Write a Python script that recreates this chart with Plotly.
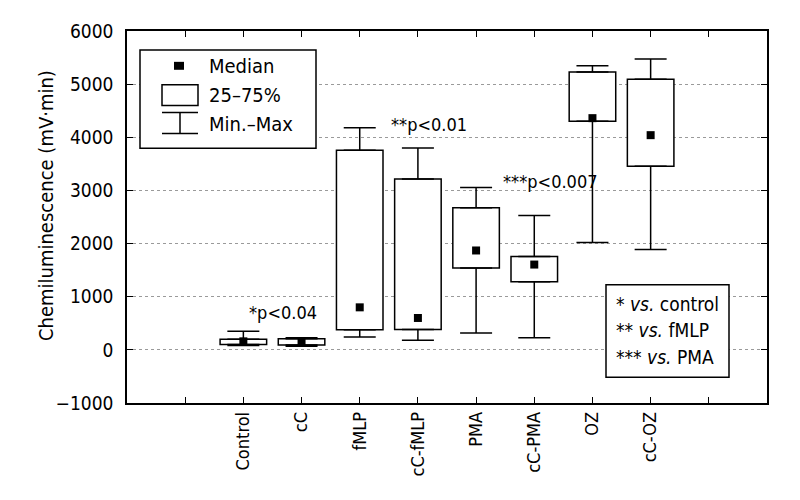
import plotly.graph_objects as go

# Chemiluminescence per group (mV·min)
groups = ["Control", "cC", "fMLP", "cC-fMLP", "PMA", "cC-PMA", "OZ", "cC-OZ"]
mins = [80, 70, 240, 180, 315, 230, 2020, 1890]
q1s = [100, 90, 380, 385, 1540, 1280, 4300, 3455]
medians = [160, 140, 800, 600, 1870, 1605, 4360, 4040]
q3s = [200, 210, 3755, 3215, 2675, 1755, 5230, 5090]
maxs = [350, 230, 4180, 3800, 3055, 2530, 5345, 5475]

p_labels = ["*p&lt;0.04", "**p&lt;0.01", "***p&lt;0.007"]
key_labels = ["* <i>vs.</i> control", "** <i>vs.</i> fMLP", "*** <i>vs.</i> PMA"]
legend_labels = ["Median", "25–75%", "Min.–Max"]
y_title = "Chemiluminescence (mV·min)"

FONT = "DejaVu Sans Condensed, Liberation Sans Narrow, sans-serif"
# page body has an 8px margin, so the figure is a bit smaller than the window
W, H = 792, 492
L, R, T, B = 119, 33, 21, 97
# plot area in window pixels: x 127..767, y 29..403


def px(x):
    return (x - 127) / 640


def py(y):
    return (403 - y) / 374


pos = list(range(len(groups)))

fig = go.Figure()

# boxes (interquartile range)
fig.add_trace(
    go.Bar(
        x=pos,
        y=[b - a for a, b in zip(q1s, q3s)],
        base=q1s,
        width=0.8,
        marker=dict(color="white", line=dict(color="black", width=1.5)),
        hoverinfo="skip",
    )
)

# upper whiskers
fig.add_trace(
    go.Scatter(
        x=pos,
        y=q3s,
        mode="markers",
        marker=dict(size=1, color="rgba(0,0,0,0)"),
        error_y=dict(
            type="data",
            symmetric=False,
            array=[m - q for m, q in zip(maxs, q3s)],
            arrayminus=[0] * len(pos),
            color="black",
            thickness=1.5,
            width=16,
        ),
    )
)

# lower whiskers
fig.add_trace(
    go.Scatter(
        x=pos,
        y=q1s,
        mode="markers",
        marker=dict(size=1, color="rgba(0,0,0,0)"),
        error_y=dict(
            type="data",
            symmetric=False,
            array=[0] * len(pos),
            arrayminus=[q - m for m, q in zip(mins, q1s)],
            color="black",
            thickness=1.5,
            width=16,
        ),
    )
)

# medians
fig.add_trace(
    go.Scatter(
        x=pos,
        y=medians,
        mode="markers",
        marker=dict(symbol="square", size=8, color="black"),
    )
)

shapes = []
annotations = []

# legend box
shapes.append(dict(type="rect", xref="paper", yref="paper",
                   x0=px(140), x1=px(316), y0=py(147), y1=py(48),
                   fillcolor="white", line=dict(color="black", width=1.5)))
shapes.append(dict(type="rect", xref="paper", yref="paper",
                   x0=px(174), x1=px(184), y0=py(68), y1=py(60),
                   fillcolor="black", line=dict(width=0)))
shapes.append(dict(type="rect", xref="paper", yref="paper",
                   x0=px(162), x1=px(198), y0=py(104), y1=py(83),
                   fillcolor="white", line=dict(color="black", width=1.5)))
for y in (111, 132):
    shapes.append(dict(type="line", xref="paper", yref="paper",
                       x0=px(162), x1=px(198), y0=py(y), y1=py(y),
                       line=dict(color="black", width=1.5)))
shapes.append(dict(type="line", xref="paper", yref="paper",
                   x0=px(180), x1=px(180), y0=py(111), y1=py(132),
                   line=dict(color="black", width=1.5)))
for text, y in zip(legend_labels, (64, 93, 122)):
    annotations.append(dict(text=text, xref="paper", yref="paper",
                            x=px(207), y=py(y), xanchor="left", yanchor="middle",
                            showarrow=False, font=dict(size=20)))

# significance key box
shapes.append(dict(type="rect", xref="paper", yref="paper",
                   x0=px(606), x1=px(729), y0=py(377), y1=py(284),
                   fillcolor="white", line=dict(color="black", width=1.5)))
for text, y in zip(key_labels, (303, 330, 357)):
    annotations.append(dict(text=text, xref="paper", yref="paper",
                            x=px(614), y=py(y), xanchor="left", yanchor="middle",
                            showarrow=False, font=dict(size=19)))

# p-values
for text, (x, y) in zip(p_labels, [(247, 312), (389, 123), (501, 180)]):
    annotations.append(dict(text=text, xref="paper", yref="paper",
                            x=px(x), y=py(y), xanchor="left", yanchor="middle",
                            showarrow=False, font=dict(size=18)))

# y-axis title
annotations.append(dict(text=y_title, xref="paper", yref="paper",
                        x=px(46), y=py(205), xanchor="center", yanchor="middle",
                        textangle=-90, showarrow=False, font=dict(size=20)))

fig.update_layout(
    width=W,
    height=H,
    margin=dict(l=L, r=R, t=T, b=B),
    paper_bgcolor="white",
    plot_bgcolor="white",
    font=dict(family=FONT, color="black", size=19),
    showlegend=False,
    shapes=shapes,
    annotations=annotations,
    xaxis=dict(
        range=[-2, 9],
        tickvals=list(range(-1, len(groups) + 1)),
        ticktext=[""] + groups + [""],
        tickangle=-90,
        ticks="inside",
        ticklen=6,
        tickwidth=1,
        tickcolor="black",
        showline=True,
        linecolor="black",
        linewidth=1.5,
        mirror="ticks",
        showgrid=False,
        zeroline=False,
        tickfont=dict(size=18),
    ),
    yaxis=dict(
        range=[-1000, 6000],
        dtick=1000,
        ticks="inside",
        ticklen=6,
        tickwidth=1,
        tickcolor="black",
        showline=True,
        linecolor="black",
        linewidth=1.5,
        mirror="ticks",
        showgrid=True,
        gridcolor="#9a9a9a",
        griddash="dot",
        gridwidth=1,
        zeroline=False,
        ticklabelstandoff=8,
        tickfont=dict(size=19),
    ),
)

fig.write_html("out.html")
